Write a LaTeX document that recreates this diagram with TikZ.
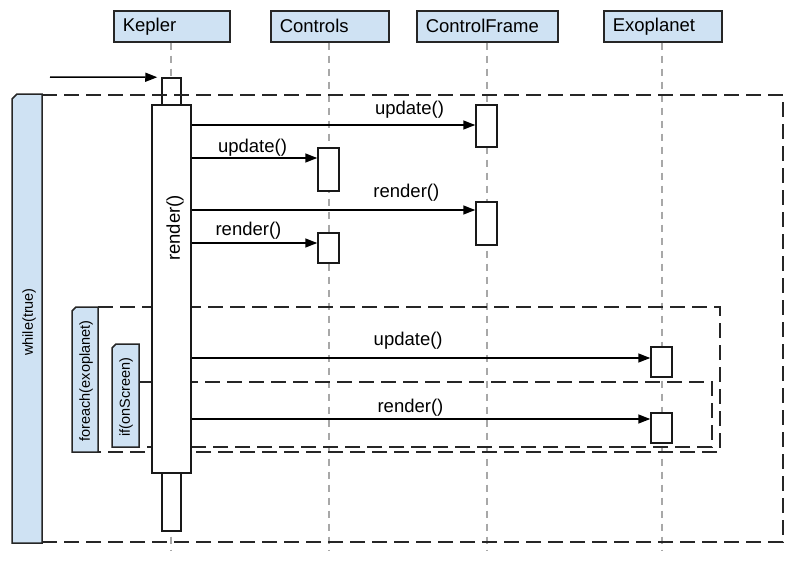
\documentclass[tikz,border=0pt]{standalone}
\usepackage{fontspec}
\setmainfont{Liberation Sans}
\usetikzlibrary{arrows.meta, positioning}

\definecolor{tabblue}{HTML}{CFE2F3}
\definecolor{lifegray}{HTML}{A8A8A8}

\begin{document}
\begin{tikzpicture}[x=1pt, y=-1pt, font=\fontsize{18.5}{21}\selectfont,
    obj/.style={rectangle, draw=black!85, fill=tabblue, line width=1.5pt, minimum height=31pt, anchor=north west, align=left, inner xsep=9pt},
    act/.style={rectangle, draw=black!90, fill=white, line width=1.5pt, inner sep=0pt},
    lifeline/.style={draw=lifegray, line width=1.2pt, dash pattern=on 7pt off 6pt},
    frame/.style={draw=black!85, line width=1.5pt, dash pattern=on 15pt off 7pt},
    tab/.style={draw=black!85, fill=tabblue, line width=1.5pt},
    tablbl/.style={rotate=90, font=\fontsize{14.5}{17}\selectfont, inner sep=0pt},
    msg/.style={draw=black, line width=1.5pt, -{Triangle[length=12pt, width=9pt]}},
    lbl/.style={inner sep=0pt}]

    \useasboundingbox (0,0) rectangle (808,562);

    % Objects
    \node (kepler) [obj, text width=98pt] at (113,10) {Kepler};
    \node (controls) [obj, text width=100pt] at (270,10) {Controls};
    \node (cframe) [obj, text width=123pt] at (416,10) {ControlFrame};
    \node (exo) [obj, text width=100pt] at (603,10) {Exoplanet};

    % Lifelines
    \draw[lifeline] (kepler.south -| 171,0) -- (171,551);
    \draw[lifeline] (controls.south -| 329,0) -- (329,551);
    \draw[lifeline] (cframe.south -| 487,0) -- (487,551);
    \draw[lifeline] (exo.south -| 662,0) -- (662,551);

    \node (kouter) [act, minimum width=19pt, minimum height=453pt] at (171.5,304.5) {};

    % Frames
    \draw[frame] (42,95) -- (783,95) -- (783,542) -- (42,542);
    \draw[tab] (12,543) -- (12,99) -- (17,94) -- (42,94) -- (42,543) -- cycle;
    \node (whilelbl) [tablbl] at (29,322) {while(true)};

    \draw[frame] (98,307) -- (720,307) -- (720,452) -- (98,452);
    \draw[tab] (72,452) -- (72,311) -- (76,307) -- (98,307) -- (98,452) -- cycle;
    \node (foreachlbl) [tablbl] at (86,381) {foreach(exoplanet)};

    \draw[frame] (139,382) -- (712,382) -- (712,447) -- (139,447);
    \draw[tab] (112,447) -- (112,348) -- (116,344) -- (139,344) -- (139,447) -- cycle;
    \node (iflbl) [tablbl] at (126,397) {if(onScreen)};

    % Activations
    \node (kbig) [act, minimum width=39pt, minimum height=368pt] at (171.5,289) {};
    \node (kbiglbl) [lbl, rotate=90] at (175,228) {render()};
    \node (ctl1) [act, minimum width=21pt, minimum height=43pt] at (328.5,169.5) {};
    \node (ctl2) [act, minimum width=21pt, minimum height=30pt] at (328.5,248) {};
    \node (cf1) [act, minimum width=21pt, minimum height=42pt] at (486.5,126) {};
    \node (cf2) [act, minimum width=21pt, minimum height=43pt] at (486.5,223.5) {};
    \node (exo1) [act, minimum width=21pt, minimum height=30pt] at (661.5,362) {};
    \node (exo2) [act, minimum width=21pt, minimum height=30pt] at (661.5,428) {};

    % Arrows
    \coordinate (start) at (50,77);
    \draw[msg, shorten >=4pt] (start) -- (kouter.north west);
    \draw[msg] (kbig.east |- 0,125) -- (cf1.west |- 0,125) node[lbl, pos=.768, yshift=15pt] {update()};
    \draw[msg] (kbig.east |- 0,158) -- (ctl1.west |- 0,158) node[lbl, pos=.484, yshift=10pt] {update()};
    \draw[msg] (kbig.east |- 0,210) -- (cf2.west |- 0,210) node[lbl, pos=.757, yshift=17pt] {render()};
    \draw[msg] (kbig.east |- 0,243) -- (ctl2.west |- 0,243) node[lbl, pos=.452, yshift=12pt] {render()};
    \draw[msg] (kbig.east |- 0,358) -- (exo1.west |- 0,358) node[lbl, pos=.472, yshift=17pt] {update()};
    \draw[msg] (kbig.east |- 0,419) -- (exo2.west |- 0,419) node[lbl, pos=.477, yshift=11pt] {render()};

\end{tikzpicture}
\end{document}
